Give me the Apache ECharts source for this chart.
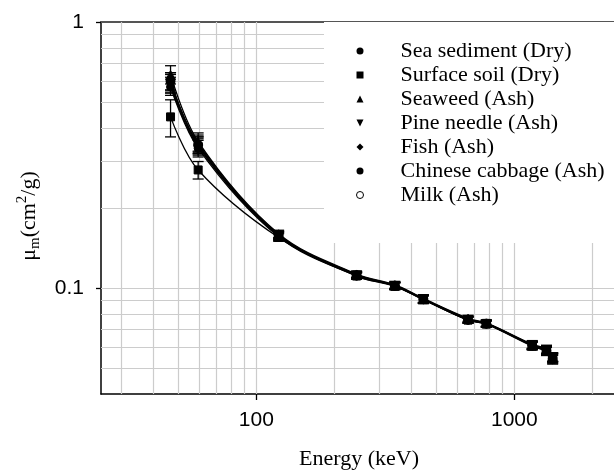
<!DOCTYPE html>
<html><head><meta charset="utf-8">
<script src="https://cdn.jsdelivr.net/npm/echarts@6/dist/echarts.min.js"></script>
<style>html,body{margin:0;padding:0;background:#fff}#c{width:614px;height:470px}</style>
</head><body><div id="c"></div>
<script>
// Energies (keV)
const energies = [46.5, 59.5, 122, 244.7, 344.3, 444, 661.7, 778.9, 1173.2, 1332.5, 1408];

// Mass attenuation coefficients (cm^2/g)
const seaSediment    = [0.600, 0.345, 0.157, 0.1120, 0.1020, 0.0910, 0.0760, 0.0735, 0.0610, 0.0580, 0.0550];
const surfaceSoil    = [0.440, 0.278, 0.155, 0.1110, 0.1015, 0.0905, 0.0758, 0.0732, 0.0605, 0.0578, 0.0545];
const seaweed        = [0.635, 0.355, 0.160, 0.1130, 0.1030, 0.0915, 0.0770, 0.0740, 0.0615, 0.0590, 0.0552];
const pineNeedle     = [0.580, 0.340, 0.158, 0.1120, 0.1020, 0.0910, 0.0762, 0.0737, 0.0610, 0.0585, 0.0548];
const fish           = [0.590, 0.350, 0.159, 0.1125, 0.1025, 0.0912, 0.0765, 0.0738, 0.0612, 0.0588, 0.0550];
const chineseCabbage = [0.570, 0.335, 0.156, 0.1110, 0.1018, 0.0905, 0.0758, 0.0733, 0.0608, 0.0580, 0.0538];
const milk           = [0.600, 0.345, 0.158, 0.1115, 0.1020, 0.0908, 0.0760, 0.0735, 0.0608, 0.0582, 0.0542];

// Uncertainties (cm^2/g)
const seaSedimentErr    = [0.045, 0.025, 0.005, 0.003, 0.003, 0.003, 0.002, 0.002, 0.002, 0.002, 0.002];
const surfaceSoilErr    = [0.070, 0.021, 0.005, 0.003, 0.003, 0.003, 0.002, 0.002, 0.002, 0.002, 0.002];
const seaweedErr        = [0.050, 0.028, 0.005, 0.003, 0.003, 0.003, 0.002, 0.002, 0.002, 0.002, 0.002];
const pineNeedleErr     = [0.040, 0.024, 0.005, 0.003, 0.003, 0.003, 0.002, 0.002, 0.002, 0.002, 0.002];
const fishErr           = [0.045, 0.026, 0.005, 0.003, 0.003, 0.003, 0.002, 0.002, 0.002, 0.002, 0.002];
const chineseCabbageErr = [0.040, 0.024, 0.005, 0.003, 0.003, 0.003, 0.002, 0.002, 0.002, 0.002, 0.002];
const milkErr           = [0.045, 0.025, 0.005, 0.003, 0.003, 0.003, 0.002, 0.002, 0.002, 0.002, 0.002];

const seriesNames = ['Sea sediment (Dry)', 'Surface soil (Dry)', 'Seaweed (Ash)', 'Pine needle (Ash)', 'Fish (Ash)', 'Chinese cabbage (Ash)', 'Milk (Ash)'];

// Axis ticks / grid
const xTickLabels = [100, 1000];
const yTickLabels = [0.1, 1];
const xGridLines = [30, 40, 50, 60, 70, 80, 90, 100, 200, 300, 400, 500, 600, 700, 800, 900, 1000, 2000];
const yGridLines = [0.05, 0.06, 0.07, 0.08, 0.09, 0.1, 0.2, 0.3, 0.4, 0.5, 0.6, 0.7, 0.8, 0.9];

const values = [seaSediment, surfaceSoil, seaweed, pineNeedle, fish, chineseCabbage, milk];
const errors = [seaSedimentErr, surfaceSoilErr, seaweedErr, pineNeedleErr, fishErr, chineseCabbageErr, milkErr];
const symbols = ['circle', 'rect', 'triangle', 'triangle', 'diamond', 'circle', 'emptyCircle'];
const rotates = [0, 0, 0, 180, 0, 0, 0];
const legendIcons = ['circle', 'rect', 'triangle', 'path://M0,0 L10,0 L5,10 Z', 'diamond', 'circle', 'circle'];

const serif = 'Liberation Serif';
const sans = 'Liberation Sans';

function fmt(list) {
  return function (v) {
    for (const t of list) { if (Math.abs(v - t) / t < 1e-6) return String(t); }
    return '';
  };
}

function renderErr(params, api) {
  const x = api.value(0), y = api.value(1), e = api.value(2);
  const hi = api.coord([x, y + e]);
  const lo = api.coord([x, y - e]);
  const w = 5.5;
  const st = { stroke: '#000', lineWidth: 1.3 };
  return {
    type: 'group',
    children: [
      { type: 'line', shape: { x1: hi[0], y1: hi[1], x2: lo[0], y2: lo[1] }, style: st },
      { type: 'line', shape: { x1: hi[0] - w, y1: hi[1], x2: hi[0] + w, y2: hi[1] }, style: st },
      { type: 'line', shape: { x1: lo[0] - w, y1: lo[1], x2: lo[0] + w, y2: lo[1] }, style: st }
    ]
  };
}

const series = [];
// gridlines
series.push({
  name: 'grid', type: 'line', data: [], z: 1, silent: true,
  markLine: {
    z: 1, silent: true, symbol: ['none', 'none'], animation: false,
    label: { show: false },
    lineStyle: { color: '#cccccc', width: 1.2, type: 'solid' },
    emphasis: { disabled: true },
    data: xGridLines.map(v => ({ xAxis: v })).concat(yGridLines.map(v => ({ yAxis: v })))
  }
});
values.forEach((vals, i) => {
  series.push({
    name: seriesNames[i] + ' err', type: 'custom', renderItem: renderErr, z: 3, silent: true,
    encode: { x: 0, y: 1 },
    data: energies.map((e, k) => [e, vals[k], errors[i][k]])
  });
});
values.forEach((vals, i) => {
  series.push({
    name: seriesNames[i], type: 'line', z: i === 6 ? 3.5 : 4,
    data: energies.map((e, k) => [e, vals[k]]),
    smooth: 0.35,
    symbol: symbols[i], symbolRotate: rotates[i], symbolSize: 8,
    showAllSymbol: true,
    color: '#000',
    itemStyle: { color: '#000', borderColor: '#000', borderWidth: 1 },
    lineStyle: { color: '#000', width: 1.3 },
    emphasis: { disabled: true },
    animation: false
  });
});

const chart = echarts.init(document.getElementById('c'), null, { renderer: 'canvas' });
chart.setOption({
  animation: false,
  backgroundColor: '#fff',
  grid: { left: 101, top: 22, right: -3, bottom: 76, containLabel: false, outerBoundsMode: 'none' },
  legend: {
    orient: 'vertical', left: 324, top: 22, z: 10,
    backgroundColor: '#fff',
    padding: [17, 40, 36, 32],
    itemWidth: 7, itemHeight: 7, itemGap: 0,
    selectedMode: false,
    textStyle: { fontFamily: serif, fontSize: 22, color: '#000', lineHeight: 24, padding: [0, 0, 0, 32] },
    data: seriesNames.map((n, i) => ({
      name: n, icon: legendIcons[i],
      itemStyle: i === 6 ? { color: '#fff', borderColor: '#000', borderWidth: 1 } : { color: '#000', borderWidth: 0 }
    }))
  },
  xAxis: [{
    type: 'log', logBase: 10, min: 25, max: 2500,
    name: 'Energy (keV)', nameLocation: 'middle', nameGap: 54,
    nameTextStyle: { fontFamily: serif, fontSize: 22, color: '#000' },
    axisLine: { show: true, onZero: false, lineStyle: { color: '#000', width: 1.5 } },
    axisTick: { show: true, inside: false, length: 6, lineStyle: { color: '#000', width: 1.3 }, customValues: xTickLabels },
    axisLabel: { fontFamily: sans, fontSize: 21, color: '#000', margin: 16, formatter: fmt(xTickLabels), customValues: xTickLabels },
    splitLine: { show: false }, minorTick: { show: false }, minorSplitLine: { show: false }
  }, {
    type: 'log', logBase: 10, min: 25, max: 2500, position: 'top',
    axisLine: { show: true, onZero: false, lineStyle: { color: '#555', width: 2 } },
    axisTick: { show: false }, axisLabel: { show: false }, splitLine: { show: false }
  }],
  yAxis: [{
    type: 'log', logBase: 10, min: 0.04, max: 1,
    name: '{n|μ}{sub|m}{n|(cm}{sup|2}{n|/g)}', nameLocation: 'middle', nameGap: 58, nameRotate: 90,
    nameTextStyle: {
      fontFamily: serif, fontSize: 22, color: '#000', padding: [0, 16, 0, 0],
      rich: {
        n: { fontFamily: serif, fontSize: 22, color: '#000', lineHeight: 28 },
        sub: { fontFamily: serif, fontSize: 15, color: '#000', lineHeight: 15, verticalAlign: 'bottom' },
        sup: { fontFamily: serif, fontSize: 15, color: '#000', lineHeight: 15, verticalAlign: 'top' }
      }
    },
    axisLine: { show: true, onZero: false, lineStyle: { color: '#000', width: 1.5 } },
    axisTick: { show: true, inside: false, length: 5, lineStyle: { color: '#000', width: 1.3 }, customValues: yTickLabels },
    axisLabel: { fontFamily: sans, fontSize: 21, color: '#000', margin: 17, formatter: fmt(yTickLabels), customValues: yTickLabels },
    splitLine: { show: false }, minorTick: { show: false }, minorSplitLine: { show: false }
  }],
  series: series
});
</script>
</body></html>
